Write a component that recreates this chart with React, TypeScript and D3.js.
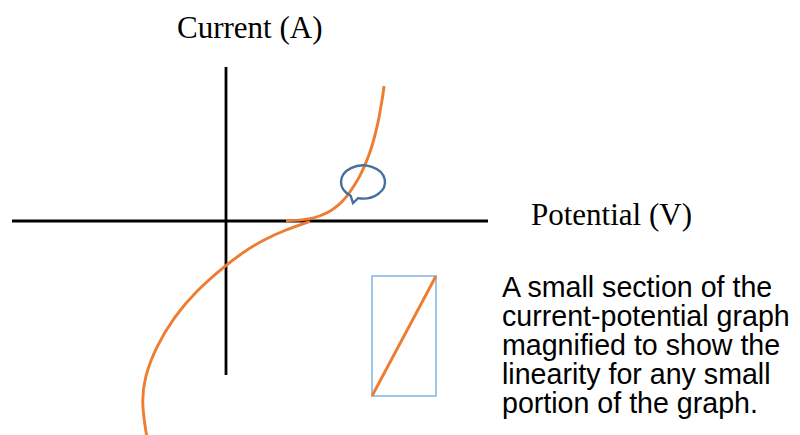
import React from "react";
import * as d3 from "d3";

// Curve data in arbitrary units (potential, current); origin at axes crossing
const upperPotential = [3.0, 3.7, 4.2, 4.7, 5.2, 5.65, 6.05, 6.4, 6.7, 6.95, 7.15, 7.35, 7.5, 7.65, 7.75, 7.85, 7.9];
const upperCurrent = [0.015, 0.04, 0.1, 0.25, 0.475, 0.8, 1.225, 1.75, 2.25, 2.8, 3.3, 3.9, 4.5, 5.15, 5.75, 6.3, 6.75];
const lowerPotential = [4.2, 2.95, 1.85, 0.95, 0.0, -1.45, -2.6, -3.5, -4.07, -4.23, -3.96];
const lowerCurrent = [-0.025, -0.45, -0.95, -1.5, -2.2, -3.45, -4.79, -6.29, -7.79, -9.1, -10.8];

// Magnified section box (units)
const boxPotential = [7.3, 10.5];
const boxCurrent = [-8.75, -2.75];

// Callout bubble (units)
const calloutCenter = [6.85, 1.95];
const calloutRadii = [1.1, 0.83];
const calloutTip = [6.35, 0.9];

const axisLabels = ["Current (A)", "Potential (V)"];
const noteLines = [
  "A small section of the",
  "current-potential graph",
  "magnified to show the",
  "linearity for any small",
  "portion of the graph.",
];

const W = 800;
const H = 435;
const ORANGE = "#ED7D31";

export default function App() {
  const x = d3.scaleLinear().domain([-10.7, 13.1]).range([12, 488]);
  const y = d3.scaleLinear().domain([-7.7, 7.7]).range([375, 67]);

  const line = d3
    .line<[number, number]>()
    .x((d) => x(d[0]))
    .y((d) => y(d[1]))
    .curve(d3.curveBasis);

  const upper: [number, number][] = upperPotential.map((p, i) => [p, upperCurrent[i]]);
  const lower: [number, number][] = lowerPotential.map((p, i) => [p, lowerCurrent[i]]);

  // callout path
  const cx = x(calloutCenter[0]);
  const cy = y(calloutCenter[1]);
  const rx = x(calloutRadii[0]) - x(0);
  const ry = y(0) - y(calloutRadii[1]);
  const a1 = (124 * Math.PI) / 180;
  const a2 = (103 * Math.PI) / 180;
  const p1 = [cx + rx * Math.cos(a1), cy + ry * Math.sin(a1)];
  const p2 = [cx + rx * Math.cos(a2), cy + ry * Math.sin(a2)];
  const tx = x(calloutTip[0]);
  const ty = y(calloutTip[1]);
  const calloutPath = `M${p1[0]},${p1[1]} A${rx},${ry} 0 1 1 ${p2[0]},${p2[1]} L${tx},${ty} Z`;

  const bx0 = x(boxPotential[0]);
  const bx1 = x(boxPotential[1]);
  const by0 = y(boxCurrent[1]);
  const by1 = y(boxCurrent[0]);

  return (
    <svg
      width={W}
      height={H}
      style={{ position: "absolute", left: 0, top: 0, background: "#fff" }}
    >
      {/* axes */}
      <line x1={x.range()[0]} x2={x.range()[1]} y1={y(0)} y2={y(0)} stroke="#000" strokeWidth={2.8} />
      <line x1={x(0)} x2={x(0)} y1={y.range()[0]} y2={y.range()[1]} stroke="#000" strokeWidth={2.8} />

      {/* curve */}
      <path d={line(lower) || ""} fill="none" stroke={ORANGE} strokeWidth={2.9} />
      <path d={line(upper) || ""} fill="none" stroke={ORANGE} strokeWidth={2.9} />

      {/* callout */}
      <path d={calloutPath} fill="none" stroke="#41719C" strokeWidth={2.4} strokeLinejoin="miter" />

      {/* magnified box */}
      <rect x={bx0} y={by0} width={bx1 - bx0} height={by1 - by0} fill="none" stroke="#8AB8E8" strokeWidth={1.6} />
      <line x1={bx0} y1={by1} x2={bx1} y2={by0} stroke={ORANGE} strokeWidth={2.9} />

      {/* labels */}
      <text x={177} y={38} fontFamily="'Liberation Serif', 'Times New Roman', serif" fontSize={31} fill="#000">
        {axisLabels[0]}
      </text>
      <text x={531} y={225} fontFamily="'Liberation Serif', 'Times New Roman', serif" fontSize={31} fill="#000">
        {axisLabels[1]}
      </text>
      {noteLines.map((t, i) => (
        <text
          key={i}
          x={502}
          y={296.5 + i * 29.2}
          fontFamily="'Liberation Sans', Arial, sans-serif"
          fontSize={28.6}
          fill="#000"
        >
          {t}
        </text>
      ))}
    </svg>
  );
}
